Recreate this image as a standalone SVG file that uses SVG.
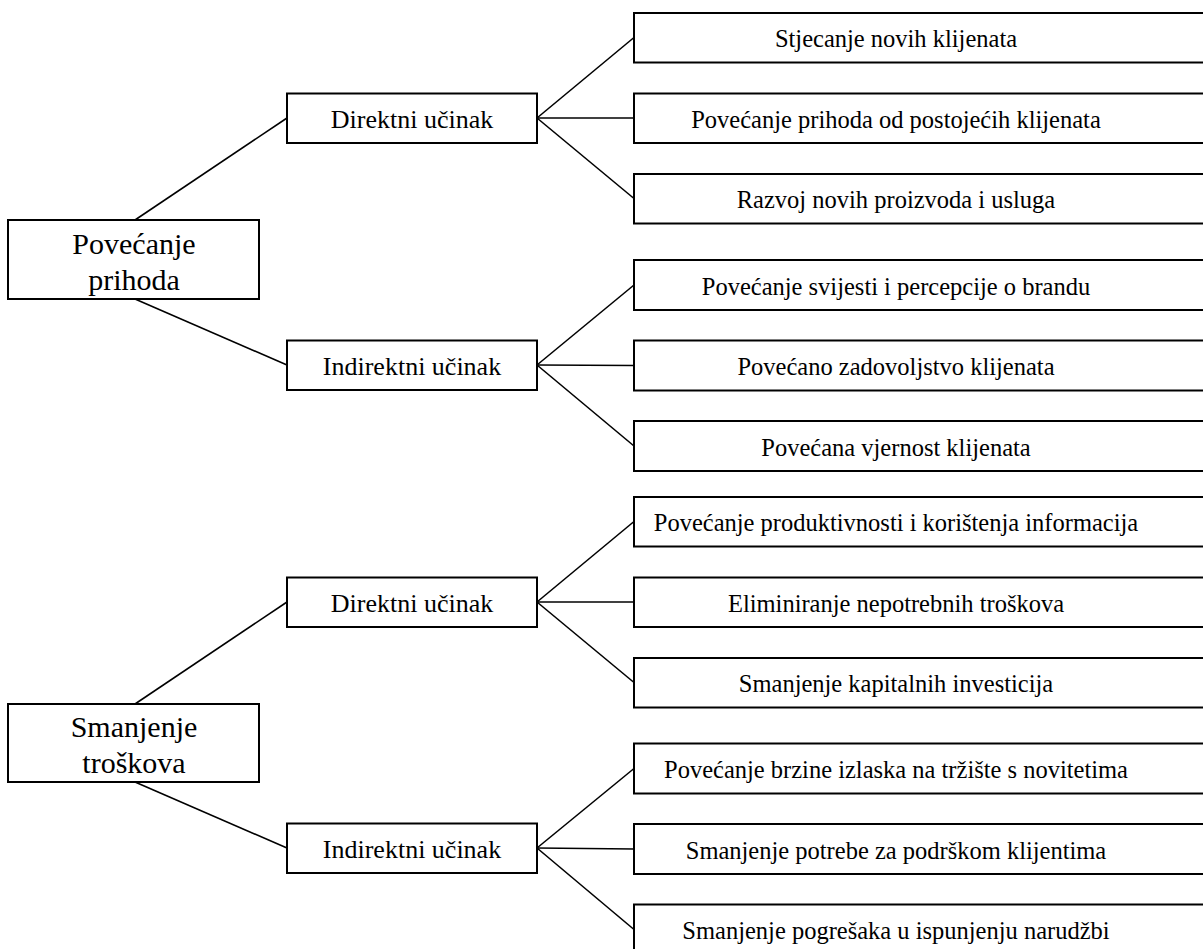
<svg xmlns="http://www.w3.org/2000/svg" width="1203" height="949" viewBox="0 0 1203 949">
<style>
rect{fill:#fff;stroke:#000;stroke-width:2}
.c line{stroke:#000;stroke-width:1.6}
text{font-family:"Liberation Serif","Times New Roman",serif;fill:#000;text-anchor:middle}
.l{font-size:30px}
.m{font-size:26px}
.r{font-size:24.5px}
</style>
<rect x="0" y="0" width="1203" height="949" style="stroke:none"/>
<g class="c" id="connectors">
<line x1="135" y1="220" x2="287" y2="118"/>
<line x1="135" y1="299" x2="287" y2="365"/>
<line x1="537" y1="118" x2="634" y2="37.5"/>
<line x1="537" y1="118" x2="634" y2="118"/>
<line x1="537" y1="118" x2="634" y2="198.5"/>
<line x1="537" y1="365" x2="634" y2="285"/>
<line x1="537" y1="365" x2="634" y2="365.5"/>
<line x1="537" y1="365" x2="634" y2="446"/>
<line x1="135" y1="704" x2="287" y2="602"/>
<line x1="135" y1="782" x2="287" y2="848"/>
<line x1="537" y1="602" x2="634" y2="521.5"/>
<line x1="537" y1="602" x2="634" y2="602"/>
<line x1="537" y1="602" x2="634" y2="682.5"/>
<line x1="537" y1="848" x2="634" y2="768.5"/>
<line x1="537" y1="848" x2="634" y2="849"/>
<line x1="537" y1="848" x2="634" y2="929.5"/>
</g>
<g id="n-povecanje-prihoda"><rect x="8" y="220" width="251" height="79"/><text class="l" x="134" y="254">Povećanje</text><text class="l" x="134" y="290">prihoda</text></g>
<g id="n-direktni-1"><rect x="287" y="93.5" width="250" height="49.5"/><text class="m" x="412" y="128">Direktni učinak</text></g>
<g id="n-indirektni-1"><rect x="287" y="340.5" width="250" height="49.5"/><text class="m" x="412" y="375">Indirektni učinak</text></g>
<g id="n-r1"><rect x="634" y="13" width="590" height="49.5"/><text class="r" x="896" y="47">Stjecanje novih klijenata</text></g>
<g id="n-r2"><rect x="634" y="93.5" width="590" height="49.5"/><text class="r" x="896" y="127.5">Povećanje prihoda od postojećih klijenata</text></g>
<g id="n-r3"><rect x="634" y="174" width="590" height="49.5"/><text class="r" x="896" y="208">Razvoj novih proizvoda i usluga</text></g>
<g id="n-r4"><rect x="634" y="260" width="590" height="50"/><text class="r" x="896" y="294.5">Povećanje svijesti i percepcije o brandu</text></g>
<g id="n-r5"><rect x="634" y="340.5" width="590" height="50"/><text class="r" x="896" y="375">Povećano zadovoljstvo klijenata</text></g>
<g id="n-r6"><rect x="634" y="421" width="590" height="50"/><text class="r" x="896" y="455.5">Povećana vjernost klijenata</text></g>
<g id="n-smanjenje-troskova"><rect x="8" y="704" width="251" height="78"/><text class="l" x="134" y="737">Smanjenje</text><text class="l" x="134" y="773">troškova</text></g>
<g id="n-direktni-2"><rect x="287" y="577.5" width="250" height="49.5"/><text class="m" x="412" y="612">Direktni učinak</text></g>
<g id="n-indirektni-2"><rect x="287" y="823.5" width="250" height="49.5"/><text class="m" x="412" y="858">Indirektni učinak</text></g>
<g id="n-r7"><rect x="634" y="497" width="590" height="49.5"/><text class="r" x="896" y="531">Povećanje produktivnosti i korištenja informacija</text></g>
<g id="n-r8"><rect x="634" y="577.5" width="590" height="49.5"/><text class="r" x="896" y="611.5">Eliminiranje nepotrebnih troškova</text></g>
<g id="n-r9"><rect x="634" y="658" width="590" height="49.5"/><text class="r" x="896" y="692">Smanjenje kapitalnih investicija</text></g>
<g id="n-r10"><rect x="634" y="743.5" width="590" height="50"/><text class="r" x="896" y="778">Povećanje brzine izlaska na tržište s novitetima</text></g>
<g id="n-r11"><rect x="634" y="824" width="590" height="50"/><text class="r" x="896" y="858.5">Smanjenje potrebe za podrškom klijentima</text></g>
<g id="n-r12"><rect x="634" y="904.5" width="590" height="60"/><text class="r" x="896" y="939">Smanjenje pogrešaka u ispunjenju narudžbi</text></g>
</svg>
